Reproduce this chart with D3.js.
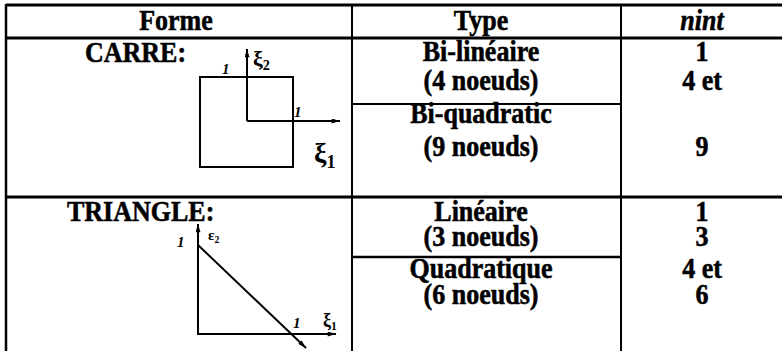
<!DOCTYPE html>
<html><head><meta charset="utf-8">
<script src="https://cdn.jsdelivr.net/npm/d3@7"></script>
<style>html,body{margin:0;padding:0;background:#fff;}svg{display:block;}</style>
</head><body>
<svg id="c" width="782" height="351"></svg>
<script>
// ---- data ----
const headers = ["Forme", "Type", "nint"];
const shapes = ["CARRE:", "TRIANGLE:"];
const types = [["Bi-linéaire", "Bi-quadratic"], ["Linéaire", "Quadratique"]];
const nodes = [["(4 noeuds)", "(9 noeuds)"], ["(3 noeuds)", "(6 noeuds)"]];
const nintLines = [["1", "4 et", "", "9"], ["1", "3", "4 et", "6"]];

const svg = d3.select("#c");
const W = 782, H = 351;
const font = "Liberation Serif, Times New Roman, serif";
const FS = 26, SY = 1.1;

// layout scales
const colEdge = d3.scaleOrdinal().domain([0,1,2,3]).range([6, 352, 621, 782]);
const colCenter = d3.scaleOrdinal().domain(headers).range([176, 481, 702]);
const sectionTop = d3.scaleOrdinal().domain(shapes).range([38, 197]);
const subTop = d3.scaleOrdinal().domain(shapes).range([104, 257]);
// baselines of text lines within a section (relative to section top)
const lineY = {
  "CARRE:": [23, 52, 85, 118],
  "TRIANGLE:": [24, 49, 81, 107]
};

const g = svg.append("g");
// table lines
const hLines = [
  {x1: colEdge(0), x2: W, y: 5, w: 3},
  {x1: colEdge(0), x2: W, y: 38, w: 3},
  {x1: colEdge(0), x2: W, y: sectionTop("TRIANGLE:"), w: 3},
  {x1: colEdge(1), x2: colEdge(2), y: subTop("CARRE:"), w: 2},
  {x1: colEdge(1), x2: colEdge(2), y: subTop("TRIANGLE:"), w: 2.5}
];
g.selectAll("line.h").data(hLines).join("line")
  .attr("x1", d => d.x1).attr("x2", d => d.x2)
  .attr("y1", d => d.y).attr("y2", d => d.y)
  .attr("stroke", "#000").attr("stroke-width", d => d.w);
g.selectAll("line.v").data([0,1,2]).join("line")
  .attr("x1", d => colEdge(d)).attr("x2", d => colEdge(d))
  .attr("y1", 4).attr("y2", H)
  .attr("stroke", "#000").attr("stroke-width", d => d === 0 ? 2.5 : 2);

function txt(sel) {
  return sel.attr("font-family", font).attr("font-weight", "bold")
    .attr("font-size", FS).attr("stroke", "#000").attr("stroke-width", 0.5)
    .attr("fill", "#000");
}

// headers
txt(g.selectAll("text.hd").data(headers).join("text"))
  .attr("transform", d => `translate(${colCenter(d)},30) scale(1,${SY})`)
  .attr("text-anchor", "middle")
  .attr("font-style", d => d === "nint" ? "italic" : "normal")
  .text(d => d);

// shape labels
const shapeX = d3.scaleOrdinal().domain(shapes).range([85, 67]);
txt(g.selectAll("text.sh").data(shapes).join("text"))
  .attr("transform", d => `translate(${shapeX(d)},${sectionTop(d) + 24}) scale(1,${SY})`)
  .text(d => d);

// type and nint columns
shapes.forEach((s, si) => {
  const t = [types[si][0], nodes[si][0], types[si][1], nodes[si][1]];
  txt(g.selectAll(null).data(t).join("text"))
    .attr("transform", (d, i) => `translate(${colCenter("Type")},${sectionTop(s) + lineY[s][i]}) scale(1,${SY})`)
    .attr("text-anchor", "middle").text(d => d);
  txt(g.selectAll(null).data(nintLines[si]).join("text"))
    .attr("transform", (d, i) => `translate(${colCenter("nint")},${sectionTop(s) + lineY[s][i]}) scale(1,${SY})`)
    .attr("text-anchor", "middle").text(d => d);
});

// arrow marker
svg.append("defs").append("marker").attr("id", "ar")
  .attr("viewBox", "0 0 10 6").attr("refX", 10).attr("refY", 3)
  .attr("markerWidth", 10).attr("markerHeight", 5).attr("markerUnits", "userSpaceOnUse")
  .attr("orient", "auto")
  .append("path").attr("d", "M0,0L10,3L0,6Z").attr("fill", "#000");

// ---- square diagram ----
const sq = g.append("g").attr("stroke", "#000").attr("stroke-width", 2).attr("fill", "none");
sq.append("rect").attr("x", 200).attr("y", 77).attr("width", 93).attr("height", 90);
sq.append("line").attr("x1", 247).attr("y1", 121).attr("x2", 247).attr("y2", 49).attr("marker-end", "url(#ar)");
sq.append("line").attr("x1", 247).attr("y1", 121).attr("x2", 340).attr("y2", 121).attr("marker-end", "url(#ar)");

function lab(x, y, main, sub, size, italic) {
  const t = g.append("text").attr("x", x).attr("y", y)
    .attr("font-family", font).attr("font-size", size)
    .attr("font-style", italic ? "italic" : "normal").attr("font-weight", "bold");
  t.append("tspan").text(main);
  if (sub) t.append("tspan").attr("font-size", size * 0.65).attr("dy", size * 0.2).text(sub);
}
lab(222, 74, "1", null, 15, true);
lab(253, 66, "ξ", "2", 22, false);
lab(294, 117, "1", null, 15, true);
lab(314, 162, "ξ", "1", 28, false);

// ---- triangle diagram ----
const tr = g.append("g").attr("stroke", "#000").attr("stroke-width", 2).attr("fill", "none");
tr.append("line").attr("x1", 198).attr("y1", 245).attr("x2", 198).attr("y2", 334);
tr.append("line").attr("x1", 197).attr("y1", 334).attr("x2", 336).attr("y2", 334).attr("marker-end", "url(#ar)");
tr.append("line").attr("x1", 198).attr("y1", 245).attr("x2", 306).attr("y2", 348).attr("marker-end", "url(#ar)");
tr.append("line").attr("x1", 198).attr("y1", 245).attr("x2", 198).attr("y2", 224).attr("marker-end", "url(#ar)");
lab(177, 247, "1", null, 15, true);
lab(208, 240, "ε", "2", 15, false);
lab(293, 328, "1", null, 15, true);
lab(323, 326, "ξ", "1", 18, false);
</script>
</body></html>
